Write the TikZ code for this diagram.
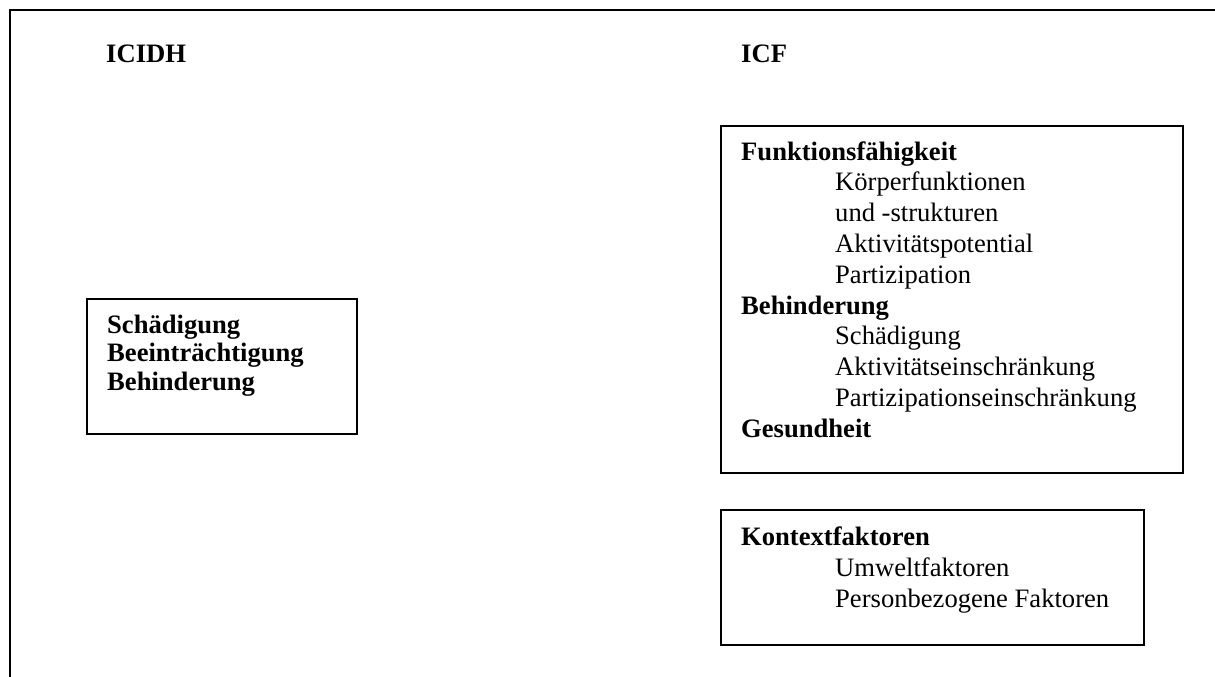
\documentclass[tikz,border=0pt]{standalone}
\usepackage{fontspec}
\setmainfont{Liberation Serif}
\usepackage{tikz}
\usetikzlibrary{positioning}

\tikzset{
  kasten/.style={draw, line width=1.6pt, inner sep=0pt, anchor=north west},
  titel/.style={anchor=base west, inner sep=0pt, font=\fontsize{26.6}{30.8}\selectfont\bfseries},
  liste/.style={anchor=base west, inner sep=0pt},
}
\newcommand{\ein}{\hspace*{94pt}}

\begin{document}
\begin{tikzpicture}[x=1pt,y=-1pt]
\useasboundingbox (0,0) rectangle (1215,677);
% Rahmen
\coordinate (untenlinks) at (10,677);
\coordinate (obenlinks) at (10,10);
\coordinate (obenrechts) at (1215,10);
\draw[line width=2pt] (untenlinks) -- (obenlinks) -- (obenrechts);

\node[titel] (icidh) at (106,63) {ICIDH};
\node[titel] (icf) at (741,63) {ICF};

% Kaesten
\node[kasten, minimum width=270pt, minimum height=135pt] (icidhbox) at (86,298) {};
\node[kasten, minimum width=462pt, minimum height=347pt] (icfbox) at (720,125) {};
\node[kasten, minimum width=423pt, minimum height=135pt] (kontextbox) at (720,509) {};

\node[liste] (icidhtext) at (107,333) {\fontsize{26.6}{28.5}\selectfont\bfseries
\begin{tabular}[t]{@{}l@{}}
Schädigung\\
Beeinträchtigung\\
Behinderung
\end{tabular}};

\node[liste] (icftext) at (741,160) {\fontsize{26.6}{30.8}\selectfont
\begin{tabular}[t]{@{}l@{}}
\textbf{Funktionsfähigkeit}\\
\ein Körperfunktionen\\
\ein und -strukturen\\
\ein Aktivitätspotential\\
\ein Partizipation\\
\textbf{Behinderung}\\
\ein Schädigung\\
\ein Aktivitätseinschränkung\\
\ein Partizipationseinschränkung\\
\textbf{Gesundheit}
\end{tabular}};

\node[liste] (kontexttext) at (741,545) {\fontsize{26.6}{31}\selectfont
\begin{tabular}[t]{@{}l@{}}
\textbf{Kontextfaktoren}\\
\ein Umweltfaktoren\\
\ein Personbezogene Faktoren
\end{tabular}};
\end{tikzpicture}
\end{document}
